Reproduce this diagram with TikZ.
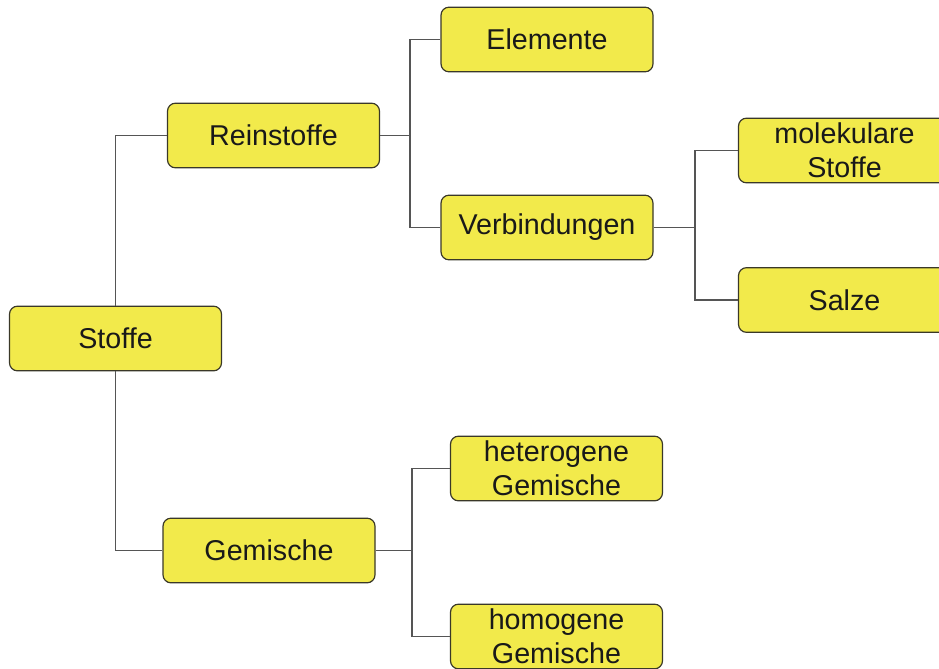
\documentclass[tikz,border=0pt]{standalone}
\usepackage{fontspec}
\setmainfont{Liberation Sans}
\usepackage{tikz}
\usetikzlibrary{positioning}
\definecolor{boxfill}{HTML}{F2EA4B}
\definecolor{boxline}{HTML}{3A3828}
\definecolor{wire}{HTML}{555555}
\newcommand{\fsBox}{\fontsize{21.5}{25.5}\selectfont}

\begin{document}
\begin{tikzpicture}[x=0.75pt, y=-0.75pt,
  stoffbox/.style={draw=boxline, fill=boxfill, line width=0.9pt, rounded corners=6pt,
    minimum width=159pt, minimum height=48.5pt, inner sep=0pt,
    font=\fsBox, text=black!90, align=center},
  wirel/.style={draw=wire, line width=0.8pt}]
  \useasboundingbox (0,0) rectangle (939,668);
  \clip (0,0) rectangle (939,668);
  % level 0 and 1
  \node[stoffbox] (stoffe)  at (115.5,338.5) {Stoffe};
  \node[stoffbox] (rein)    at (273.5,135.5) {Reinstoffe};
  \node[stoffbox] (gem)     at (269,550.5)   {Gemische};
  % level 2
  \node[stoffbox] (elem)    at (547,39.5)    {Elemente};
  \node[stoffbox] (verb)    at (547,227.5)   {Verbindungen};
  \node[stoffbox] (hetero)  at (556.5,468.5) {heterogene\\Gemische};
  \node[stoffbox] (homo)    at (556.5,636.5) {homogene\\Gemische};
  % level 3
  \node[stoffbox] (molek)   at (844.5,150.5) {molekulare\\Stoffe};
  \node[stoffbox] (salze)   at (844.5,300)   {Salze};
  % junctions
  \coordinate (jRein) at (410,135.5);
  \coordinate (jVerb) at (695,227.5);
  \coordinate (jGem)  at (412,550.5);
  % connectors
  \draw[wirel] (stoffe.north) |- (rein.west);
  \draw[wirel] (stoffe.south) |- (gem.west);
  \draw[wirel] (rein.east) -- (jRein);
  \draw[wirel] (jRein) |- (elem.west);
  \draw[wirel] (jRein) |- (verb.west);
  \draw[wirel] (verb.east) -- (jVerb);
  \draw[wirel] (jVerb) |- (molek.west);
  \draw[wirel] (jVerb) |- (salze.west);
  \draw[wirel] (gem.east) -- (jGem);
  \draw[wirel] (jGem) |- (hetero.west);
  \draw[wirel] (jGem) |- (homo.west);
\end{tikzpicture}
\end{document}
